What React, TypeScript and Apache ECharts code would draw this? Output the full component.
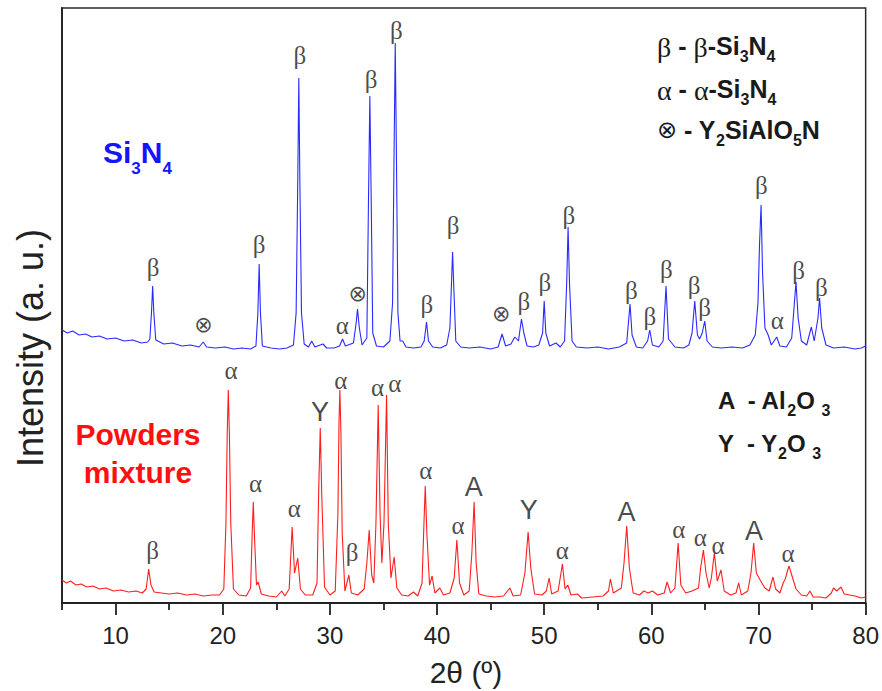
import React, { useEffect, useRef } from 'react';
import * as echarts from 'echarts';

// 2θ (deg) vs intensity (a.u.) — sintered Si3N4 (upper, blue)
const si3n4Pattern: number[][] = [
  [5.0, 273], [5.5, 270], [6.0, 272], [6.6, 268], [7.2, 269], [7.8, 266], [8.5, 267], [9.2, 264], [10.0, 265],
  [10.8, 262], [11.6, 263], [12.4, 260], [13.0, 261], [13.2, 264], [13.35, 290], [13.46, 317], [13.57, 290],
  [13.75, 263], [14.5, 259], [15.3, 260], [16.2, 257], [17.0, 258], [17.8, 256], [18.18, 261], [18.5, 256],
  [19.3, 255], [20.2, 256], [21.0, 254], [21.8, 255], [22.6, 254], [23.1, 257], [23.28, 290], [23.4, 339],
  [23.52, 290], [23.7, 257], [24.5, 255], [25.3, 254], [26.0, 255], [26.6, 258], [26.85, 290], [27.0, 420],
  [27.1, 525], [27.2, 420], [27.35, 290], [27.6, 259], [28.0, 256], [28.3, 262], [28.6, 256], [29.35, 259],
  [29.7, 255], [30.4, 255], [30.9, 257], [31.18, 264], [31.45, 257], [32.2, 260], [32.45, 280], [32.58, 294],
  [32.75, 275], [33.0, 258], [33.45, 265], [33.6, 400], [33.73, 507], [33.86, 400], [34.0, 270], [34.35, 257],
  [35.0, 256], [35.6, 262], [35.85, 300], [36.0, 460], [36.1, 560], [36.2, 460], [36.35, 290], [36.55, 262],
  [36.8, 262], [37.1, 256], [37.8, 255], [38.5, 256], [38.8, 262], [39.02, 281], [39.2, 262], [39.6, 256],
  [40.3, 255], [40.9, 258], [41.2, 275], [41.35, 320], [41.45, 351], [41.55, 320], [41.75, 262], [42.2, 256],
  [43.0, 255], [44.0, 256], [45.0, 254], [45.7, 256], [46.07, 269], [46.4, 257], [46.9, 259], [47.26, 266],
  [47.6, 262], [47.88, 284], [48.1, 270], [48.4, 257], [49.0, 256], [49.5, 258], [49.85, 270], [50.0, 302],
  [50.15, 270], [50.5, 257], [51.1, 260], [51.5, 256], [51.9, 262], [52.1, 320], [52.23, 376], [52.36, 320],
  [52.6, 262], [53.0, 256], [54.0, 255], [55.0, 256], [56.0, 254], [57.0, 256], [57.7, 260], [58.01, 299],
  [58.2, 268], [58.6, 256], [59.2, 255], [59.65, 262], [59.85, 273], [60.1, 258], [60.7, 256], [61.1, 262],
  [61.37, 317], [61.6, 264], [62.2, 256], [63.0, 255], [63.5, 258], [63.8, 270], [64.05, 302], [64.3, 268],
  [64.5, 264], [64.75, 270], [64.98, 282], [65.2, 262], [65.7, 256], [66.5, 255], [67.5, 256], [68.5, 255],
  [69.2, 258], [69.7, 268], [69.95, 300], [70.1, 360], [70.24, 398], [70.38, 330], [70.6, 275], [70.9, 268],
  [71.2, 258], [71.7, 266], [72.0, 257], [72.6, 256], [73.1, 265], [73.35, 300], [73.5, 321], [73.7, 285],
  [74.0, 262], [74.5, 258], [74.93, 276], [75.2, 262], [75.55, 285], [75.7, 305], [75.9, 275], [76.3, 258],
  [77.0, 255], [78.0, 256], [79.0, 254], [79.6, 255], [80.0, 257],
];

// Powders mixture (lower, red)
const powdersPattern: number[][] = [
  [5.0, 23], [5.4, 20], [5.8, 22], [6.3, 18], [6.8, 19], [7.3, 16], [7.9, 17], [8.5, 14], [9.1, 15], [9.8, 12],
  [10.5, 13], [11.2, 11], [11.9, 12], [12.5, 10], [12.85, 14], [13.09, 34], [13.3, 18], [13.6, 11], [14.3, 10],
  [15.0, 9], [15.8, 10], [16.6, 8], [17.4, 9], [18.2, 7], [19.0, 8], [19.7, 8], [20.1, 14], [20.3, 80],
  [20.42, 170], [20.52, 213], [20.62, 170], [20.75, 80], [21.0, 14], [21.5, 8], [22.2, 7], [22.6, 15],
  [22.75, 70], [22.85, 101], [22.97, 65], [23.15, 18], [23.3, 21], [23.6, 9], [24.3, 7], [25.0, 6], [25.5, 12],
  [25.8, 7], [26.2, 14], [26.48, 76], [26.7, 30], [27.0, 45], [27.25, 14], [27.7, 8], [28.4, 8], [28.8, 20],
  [28.95, 110], [29.1, 175], [29.25, 105], [29.5, 16], [30.0, 8], [30.5, 12], [30.75, 90], [30.85, 180],
  [30.93, 213], [31.03, 170], [31.15, 70], [31.4, 12], [31.77, 28], [32.0, 10], [32.6, 8], [33.2, 14],
  [33.45, 40], [33.67, 73], [33.9, 28], [34.1, 20], [34.3, 80], [34.51, 198], [34.68, 90], [34.85, 40],
  [35.05, 80], [35.29, 208], [35.45, 80], [35.7, 25], [36.0, 46], [36.25, 15], [36.7, 8], [37.3, 7], [37.8, 11],
  [38.2, 7], [38.6, 20], [38.78, 80], [38.9, 117], [39.05, 70], [39.3, 18], [39.54, 27], [39.8, 10],
  [40.26, 15], [40.6, 8], [41.2, 10], [41.6, 25], [41.85, 63], [42.1, 20], [42.5, 8], [43.0, 12], [43.25, 50],
  [43.46, 101], [43.65, 40], [43.9, 9], [44.6, 7], [45.4, 6], [46.2, 7], [46.8, 15], [47.1, 7], [47.8, 8],
  [48.2, 30], [48.5, 71], [48.75, 35], [49.1, 9], [49.8, 8], [50.2, 12], [50.46, 25], [50.7, 9], [51.3, 12],
  [51.7, 39], [51.95, 14], [52.2, 18], [52.5, 8], [53.1, 9], [53.5, 5], [54.5, 6], [55.5, 7], [56.0, 12],
  [56.18, 24], [56.45, 10], [57.2, 15], [57.45, 40], [57.7, 77], [57.95, 35], [58.3, 10], [58.9, 8], [59.3, 12],
  [59.7, 10], [60.1, 12], [60.6, 8], [61.2, 10], [61.47, 21], [61.8, 10], [62.2, 15], [62.5, 60], [62.75, 18],
  [63.2, 10], [63.8, 12], [64.4, 15], [64.6, 35], [64.86, 53], [65.1, 30], [65.4, 15], [65.6, 25], [65.88, 50],
  [66.15, 22], [66.5, 33], [66.8, 12], [67.4, 8], [67.9, 10], [68.15, 20], [68.4, 8], [69.0, 12], [69.3, 30],
  [69.55, 60], [69.8, 30], [70.2, 22], [70.6, 15], [71.0, 12], [71.35, 26], [71.6, 14], [72.0, 10], [72.3, 20],
  [72.5, 24], [72.7, 32], [72.85, 37], [73.1, 28], [73.5, 14], [74.0, 8], [74.5, 7], [74.8, 12], [75.1, 6],
  [75.7, 6], [76.3, 5], [76.8, 10], [77.0, 15], [77.3, 12], [77.7, 16], [78.0, 9], [78.5, 8], [79.0, 7],
  [79.6, 5], [80.0, 6],
];

// Phase markers: [2θ, label height, symbol]
const si3n4Markers: [number, number, string][] = [
  [13.5, 333, 'β'], [18.2, 277, '⊗'], [23.4, 356, 'β'], [27.2, 545, 'β'], [31.15, 275, 'α'], [32.6, 308, '⊗'],
  [33.85, 521, 'β'], [36.2, 570, 'β'], [39.05, 296, 'β'], [41.5, 375, 'β'], [46.0, 288, '⊗'], [48.1, 299, 'β'],
  [50.06, 318, 'β'], [52.3, 385, 'β'], [58.14, 310, 'β'], [59.85, 284, 'β'], [61.4, 331, 'β'], [63.98, 315, 'β'],
  [64.98, 293, 'β'], [70.27, 415, 'β'], [71.76, 280, 'α'], [73.75, 330, 'β'], [75.87, 313, 'β'],
];

const powdersMarkers: [number, number, string][] = [
  [13.46, 50, 'β'], [20.77, 230, 'α'], [23.07, 117, 'α'], [26.67, 92, 'α'], [29.07, 191, 'Y'], [31.03, 220, 'α'],
  [32.08, 48, 'β'], [34.45, 213, 'α'], [36.06, 217, 'α'], [38.96, 130, 'α'], [41.97, 75, 'α'], [43.43, 116, 'A'],
  [48.56, 93, 'Y'], [51.7, 50, 'α'], [57.68, 91, 'A'], [62.56, 71, 'α'], [64.58, 63, 'α'], [66.22, 55, 'α'],
  [69.58, 72, 'A'], [72.75, 47, 'α'],
];

const majorTicks = [10, 20, 30, 40, 50, 60, 70, 80];
const minorTicks = [5, 15, 25, 35, 45, 55, 65, 75];

const SANS = '"Liberation Sans", Arial, sans-serif';
const SERIF = '"Liberation Serif", "DejaVu Serif", serif';
const INK = '#1a1a1a';

const markerSeries = (data: [number, number, string][], name: string) => ({
  type: 'scatter',
  name,
  symbolSize: 0,
  silent: true,
  z: 5,
  data: data.map(([x, y, t]) => ({ value: [x, y], name: t })),
  label: {
    show: true,
    position: 'inside',
    formatter: (p: any) => {
      const t = p.name;
      if (t === 'Y' || t === 'A') return `{s|${t}}`;
      if (t === '⊗') return `{o|${t}}`;
      return `{g|${t}}`;
    },
    rich: {
      g: { fontFamily: SERIF, fontSize: 25, color: INK, padding: [0, 0, 5, 0] },
      o: { fontFamily: '"DejaVu Sans", sans-serif', fontSize: 22, color: INK, padding: [0, 0, 3, 0] },
      s: { fontFamily: SANS, fontSize: 27, color: INK },
    },
  },
});

// main glyphs hang from the top of the line, subscripts sit at its bottom
const legendRich = (F: number, L: number, Fs: number, fill: string) => ({
  m: { fontFamily: SANS, fontWeight: 'bold', fontSize: F, lineHeight: L, verticalAlign: 'top', fill },
  s: { fontFamily: SANS, fontWeight: 'bold', fontSize: Fs, lineHeight: L, verticalAlign: 'bottom', fill },
  g: { fontFamily: SERIF, fontSize: F + 3, lineHeight: L, verticalAlign: 'top', fill },
  o: { fontFamily: '"DejaVu Sans", sans-serif', fontSize: F - 1, lineHeight: L, verticalAlign: 'top', fill },
});

const richText = (x: number, capCenter: number, text: string, rich: any, F: number) => ({
  type: 'text',
  x,
  y: capCenter - F / 2,
  silent: true,
  style: { text, rich, align: 'left', verticalAlign: 'top' },
});

export default function App() {
  const ref = useRef<HTMLDivElement>(null);
  useEffect(() => {
    const chart = echarts.init(ref.current!, null, { renderer: 'svg' });
    const legTop = legendRich(25, 31, 16, INK);
    const legBot = legendRich(24, 30, 16, INK);
    const blueR = legendRich(30, 40, 17, '#1414ff');
    const option: any = {
      animation: false,
      backgroundColor: '#ffffff',
      grid: {
        left: 62, right: 16, top: 8, bottom: 88, containLabel: false,
        show: true, borderColor: '#2a2a2a', borderWidth: 1.5, backgroundColor: 'transparent',
      },
      xAxis: [
        {
          type: 'value', min: 5, max: 80,
          axisLine: { show: true, onZero: false, lineStyle: { color: '#222', width: 1.8 } },
          axisTick: { show: true, customValues: majorTicks, length: 12, lineStyle: { color: '#222', width: 1.8 } },
          axisLabel: { customValues: majorTicks, fontFamily: SANS, fontSize: 24, color: '#222', margin: 20 },
          splitLine: { show: false },
        },
        {
          type: 'value', min: 5, max: 80, position: 'bottom',
          axisLine: { show: false },
          axisTick: { show: true, customValues: minorTicks, length: 7, lineStyle: { color: '#222', width: 1.8 } },
          axisLabel: { show: false },
          splitLine: { show: false },
        },
      ],
      yAxis: {
        type: 'value', min: 0, max: 595,
        axisLine: { show: true, lineStyle: { color: '#222', width: 1.8 } },
        axisTick: { show: false }, axisLabel: { show: false }, splitLine: { show: false },
      },
      series: [
        {
          type: 'line', name: 'Si3N4', data: si3n4Pattern, showSymbol: false, symbol: 'none',
          lineStyle: { color: '#2a2aff', width: 1.1 }, z: 3,
        },
        {
          type: 'line', name: 'Powders mixture', data: powdersPattern, showSymbol: false, symbol: 'none',
          lineStyle: { color: '#ff1e1e', width: 1.1 }, z: 3,
        },
        markerSeries(si3n4Markers, 'si3n4 phases'),
        markerSeries(powdersMarkers, 'powders phases'),
      ],
      graphic: [
        richText(657, 46, '{g|β}{m| - }{g|β}{m|-Si}{s|3}{m|N}{s|4}', legTop, 25),
        richText(657, 89, '{g|α}{m| - }{g|α}{m|-Si}{s|3}{m|N}{s|4}', legTop, 25),
        richText(657, 130, '{o|⊗}{m| - Y}{s|2}{m|SiAlO}{s|5}{m|N}', legTop, 25),
        richText(718, 400, '{m|A  - Al}{s|2}{m|O }{s|3}', legBot, 24),
        richText(718, 443, '{m|Y  - Y}{s|2}{m|O }{s|3}', legBot, 24),
        richText(103, 152, '{m|Si}{s|3}{m|N}{s|4}', blueR, 30),
        {
          type: 'text', x: 138, y: 453, silent: true,
          style: {
            text: 'Powders\nmixture', align: 'center', verticalAlign: 'middle', lineHeight: 38,
            fontFamily: SANS, fontWeight: 'bold', fontSize: 30, fill: '#ff1010',
          },
        },
        {
          type: 'text', x: 30, y: 348, rotation: Math.PI / 2, silent: true,
          style: {
            text: 'Intensity (a. u.)', align: 'center', verticalAlign: 'middle',
            fontFamily: SANS, fontSize: 36, fill: '#222',
          },
        },
        {
          type: 'text', x: 466, y: 672, silent: true,
          style: {
            text: '2θ (º)', align: 'center', verticalAlign: 'middle',
            fontFamily: SANS, fontSize: 30, fill: '#222',
          },
        },
      ],
    };
    chart.setOption(option);
    return () => chart.dispose();
  }, []);
  return (
    <div
      ref={ref}
      style={{ position: 'fixed', left: 0, top: 0, width: 882, height: 691, background: '#fff' }}
    />
  );
}
